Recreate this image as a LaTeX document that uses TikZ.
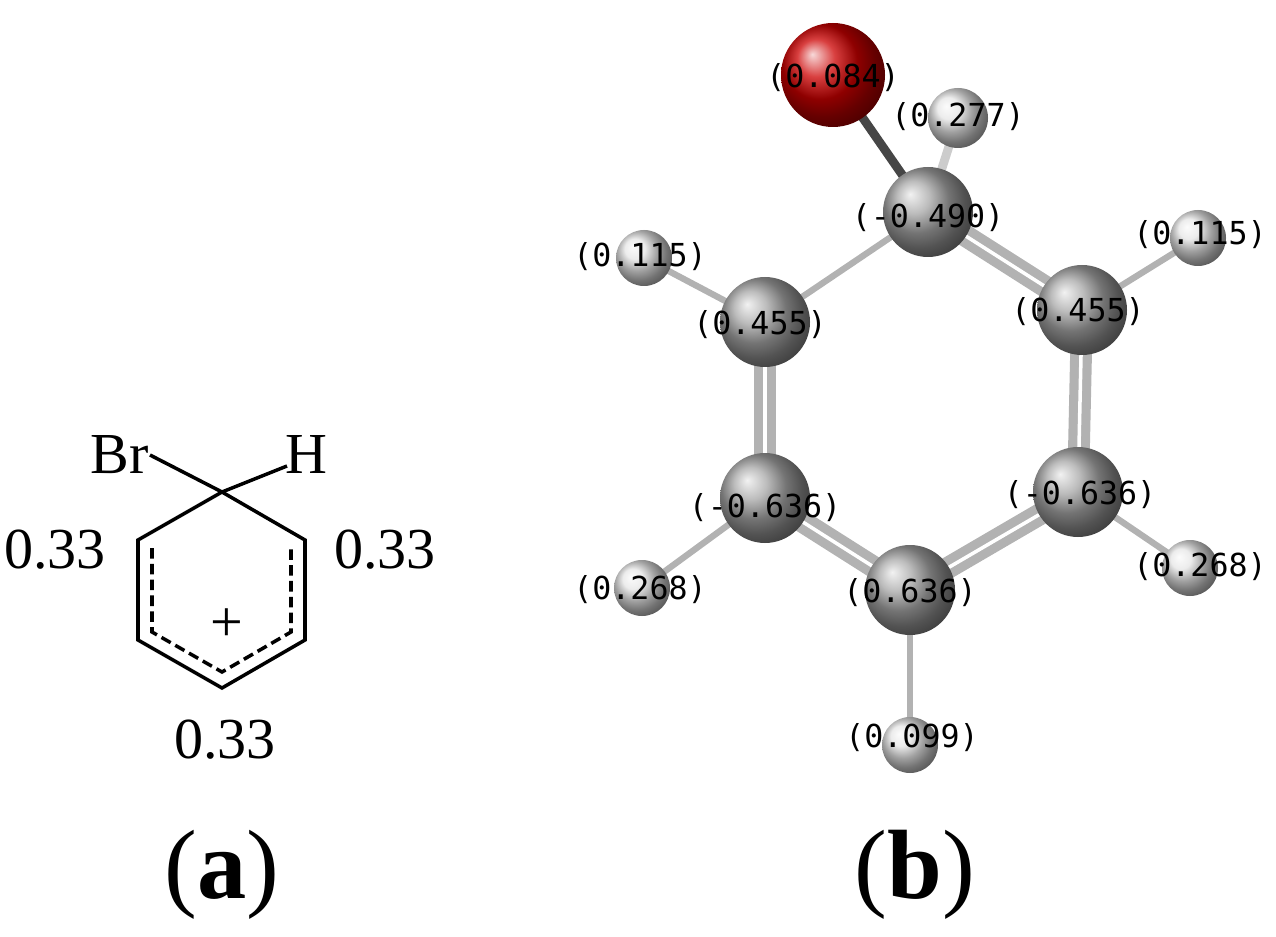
\documentclass[tikz,border=0pt]{standalone}
\usepackage{fontspec}
\setmainfont{Liberation Serif}
\newfontfamily\labfont{DejaVu Sans Mono}
\begin{document}
\begin{tikzpicture}[x=0.01cm,y=-0.01cm]
\useasboundingbox (0,0) rectangle (1276,937);
\tikzset{
 bnd/.style={line width=1pt},
 lbl/.style={font=\fontsize{16.5}{16.5}\selectfont},
 captxt/.style={font=\fontsize{28}{28}\selectfont},
 atomlab/.style={font=\labfont\fontsize{9}{9}\selectfont, text=black},
}
% ---------- (a) ----------
\coordinate (t) at (222,492);
\coordinate (ur) at (305,540);
\coordinate (lr) at (305,640);
\coordinate (b) at (222,688);
\coordinate (ll) at (138,640);
\coordinate (ul) at (138,540);
\node[lbl] (br) at (120,455) {Br};
\node[lbl] (h) at (306,455) {H};
\draw[bnd] (150,455) -- (t);
\draw[bnd] (287,466) -- (t);
\draw[bnd] (t) -- (ur) -- (lr) -- (b) -- (ll) -- (ul) -- cycle;
\draw[bnd,dash pattern=on 3pt off 1.5pt] (152,548) -- (152,632) -- (222,672) -- (291,632) -- (291,548);
\node[lbl] (plus) at (227,625) {+};
\node[lbl] (q1) at (55,550) {0.33};
\node[lbl] (q2) at (385,550) {0.33};
\node[lbl] (q3) at (225,740) {0.33};
\node[captxt] (capa) at (222,875) {(\textbf{a})};
% ---------- (b) ----------
\coordinate (O) at (833,75);
\coordinate (Hoh) at (958,118);
\coordinate (C1) at (928,212);
\coordinate (C2) at (765,322);
\coordinate (C3) at (1082,310);
\coordinate (C4) at (765,498);
\coordinate (C5) at (1078,492);
\coordinate (C6) at (910,590);
\coordinate (H2) at (644,258);
\coordinate (H3) at (1198,238);
\coordinate (H4) at (642,588);
\coordinate (H5) at (1190,568);
\coordinate (H6) at (910,745);
\draw[line width=2.5pt, gray!55!black] (O) -- (C1);
\draw[line width=2.5pt, gray!40] (Hoh) -- (C1);
\foreach \a/\bb in {C1/C2, C2/H2, C3/H3, C4/H4, C5/H5, C6/H6}
  \draw[line width=1.8pt, gray!60] (\a) -- (\bb);
\foreach \a/\bb in {C1/C3, C2/C4, C3/C5, C4/C6, C5/C6}
  \draw[line width=2.6pt, gray!60, double=white, double distance=1pt] (\a) -- (\bb);
\foreach \c in {C1,C2,C3,C4,C5,C6}
  \shade[ball color=gray!70] (\c) circle (45);
\foreach \c in {H2,H3,H4,H5,H6}
  \shade[ball color=gray!20] (\c) circle (28);
\shade[ball color=gray!20] (Hoh) circle (30);
\shade[ball color=red!80!black] (O) circle (52);
\node[atomlab] (lO) at (833,78) {(0.084)};
\node[atomlab] (lHo) at (958,117) {(0.277)};
\node[atomlab] (lC1) at (928,218) {(-0.490)};
\node[atomlab] (lC2) at (760,325) {(0.455)};
\node[atomlab] (lC3) at (1078,312) {(0.455)};
\node[atomlab] (lC4) at (765,508) {(-0.636)};
\node[atomlab] (lC5) at (1080,495) {(-0.636)};
\node[atomlab] (lC6) at (910,593) {(0.636)};
\node[atomlab] (lH2) at (640,257) {(0.115)};
\node[atomlab] (lH3) at (1200,235) {(0.115)};
\node[atomlab] (lH4) at (640,590) {(0.268)};
\node[atomlab] (lH5) at (1200,567) {(0.268)};
\node[atomlab] (lH6) at (912,738) {(0.099)};
\node[captxt] (capb) at (915,875) {(\textbf{b})};
\end{tikzpicture}
\end{document}
